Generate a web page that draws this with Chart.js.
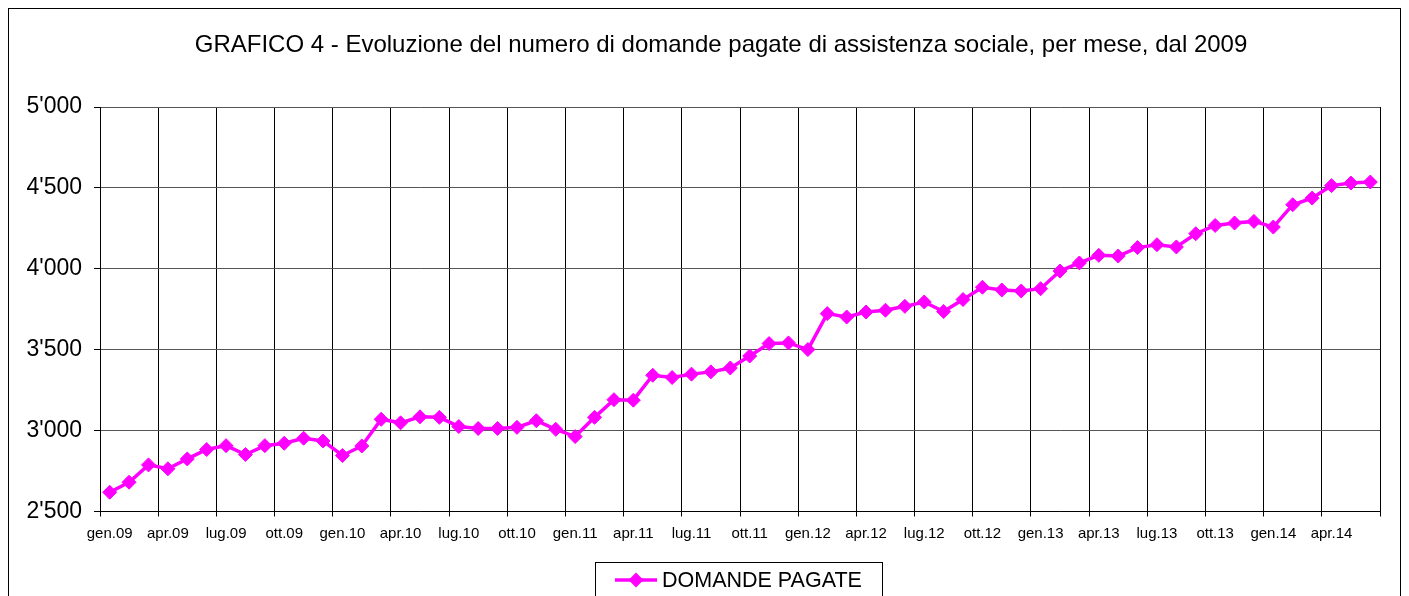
<!DOCTYPE html>
<html>
<head>
<meta charset="utf-8">
<script src="https://cdn.jsdelivr.net/npm/chart.js@4/dist/chart.umd.min.js"></script>
<style>
  body { margin: 0; background: #fff; }
  canvas { display: block; }
</style>
</head>
<body>
<canvas id="grafico" width="1409" height="596"></canvas>
<script>
// mesi e anni per le etichette dell'asse x
const mesi = ["gen", "feb", "mar", "apr", "mag", "giu", "lug", "ago", "set", "ott", "nov", "dic"];
const anni = ["09", "10", "11", "12", "13", "14"];
const numMesi = 66; // gen.09 - giu.14

const categorie = [];
for (let i = 0; i < numMesi; i++) {
  categorie.push(mesi[i % 12] + "." + anni[Math.floor(i / 12)]);
}

// domande pagate
const domande2009 = [2619, 2681, 2788, 2764, 2825, 2883, 2907, 2852, 2907, 2922, 2953, 2936];
const domande2010 = [2846, 2905, 3070, 3048, 3085, 3082, 3025, 3013, 3013, 3020, 3061, 3008];
const domande2011 = [2963, 3082, 3191, 3188, 3342, 3328, 3349, 3363, 3387, 3461, 3538, 3542];
const domande2012 = [3501, 3723, 3702, 3733, 3744, 3768, 3795, 3736, 3810, 3886, 3869, 3863];
const domande2013 = [3877, 3986, 4036, 4083, 4079, 4131, 4149, 4135, 4217, 4268, 4283, 4293];
const domande2014 = [4258, 4396, 4437, 4514, 4530, 4536];
const domande = [].concat(domande2009, domande2010, domande2011, domande2012, domande2013, domande2014);

const titolo = "GRAFICO 4 - Evoluzione del numero di domande pagate di assistenza sociale, per mese, dal 2009";
const nomeSerie = "DOMANDE PAGATE";
const magenta = "#FF00FF";
const font = "'Liberation Sans', Arial, sans-serif";

// cornice, titolo e legenda
const decorazioni = {
  id: "decorazioni",
  beforeDraw(chart) {
    const ctx = chart.ctx;
    ctx.save();
    ctx.fillStyle = "#fff";
    ctx.fillRect(0, 0, chart.width, chart.height);
    ctx.restore();
  },
  afterDraw(chart) {
    const ctx = chart.ctx;
    ctx.save();
    ctx.strokeStyle = "#000";
    ctx.lineWidth = 1;
    ctx.strokeRect(8.5, 8.5, 1392, 600);

    ctx.fillStyle = "#000";
    ctx.font = "24px " + font;
    ctx.textAlign = "center";
    ctx.textBaseline = "middle";
    ctx.fillText(titolo, 721, 45);

    // legenda
    ctx.strokeRect(595.5, 562.5, 287, 50);
    ctx.strokeStyle = magenta;
    ctx.lineWidth = 3.5;
    ctx.beginPath();
    ctx.moveTo(615, 580);
    ctx.lineTo(657, 580);
    ctx.stroke();
    ctx.fillStyle = magenta;
    ctx.beginPath();
    ctx.moveTo(636, 572.5);
    ctx.lineTo(643.5, 580);
    ctx.lineTo(636, 587.5);
    ctx.lineTo(628.5, 580);
    ctx.closePath();
    ctx.fill();
    ctx.fillStyle = "#000";
    ctx.font = "21.5px " + font;
    ctx.textAlign = "left";
    ctx.fillText(nomeSerie, 662, 581);
    ctx.restore();
  }
};

new Chart(document.getElementById("grafico"), {
  type: "line",
  data: {
    labels: categorie,
    datasets: [{
      label: nomeSerie,
      data: domande,
      borderColor: magenta,
      backgroundColor: magenta,
      borderWidth: 3.5,
      tension: 0,
      pointStyle: "rectRot",
      pointRadius: 7,
      pointBorderWidth: 1,
      pointBackgroundColor: magenta,
      pointBorderColor: magenta
    }]
  },
  options: {
    responsive: false,
    animation: false,
    devicePixelRatio: 1,
    layout: { padding: { left: 8, right: 29, top: 107, bottom: 54 } },
    plugins: {
      legend: { display: false },
      title: { display: false },
      tooltip: { enabled: false }
    },
    scales: {
      x: {
        offset: true,
        grid: {
          offset: true,
          color: (c) => (c.index === undefined || c.index % 3 === 0) ? "#000" : "rgba(0,0,0,0)",
          tickColor: (c) => (c.index === undefined || c.index % 3 === 0) ? "#000" : "rgba(0,0,0,0)",
          tickLength: 5
        },
        border: { color: "#000" },
        ticks: {
          autoSkip: false,
          maxRotation: 0,
          minRotation: 0,
          padding: 8,
          color: "#000",
          font: { family: font, size: 15 },
          callback: function (v, i) {
            return i % 3 === 0 ? this.getLabelForValue(v) : "";
          }
        },
        afterFit: (scale) => { scale.height = 30.5; }
      },
      y: {
        min: 2500,
        max: 5000,
        grid: { color: "#555", tickColor: "#000", tickLength: 6 },
        border: { color: "#000" },
        ticks: {
          stepSize: 500,
          padding: 12,
          color: "#000",
          font: { family: font, size: 23 },
          callback: (v) => {
            const s = String(v);
            return s.slice(0, s.length - 3) + "'" + s.slice(-3);
          }
        },
        afterFit: (scale) => { scale.width = 92; }
      }
    }
  },
  plugins: [decorazioni]
});
</script>
</body>
</html>
